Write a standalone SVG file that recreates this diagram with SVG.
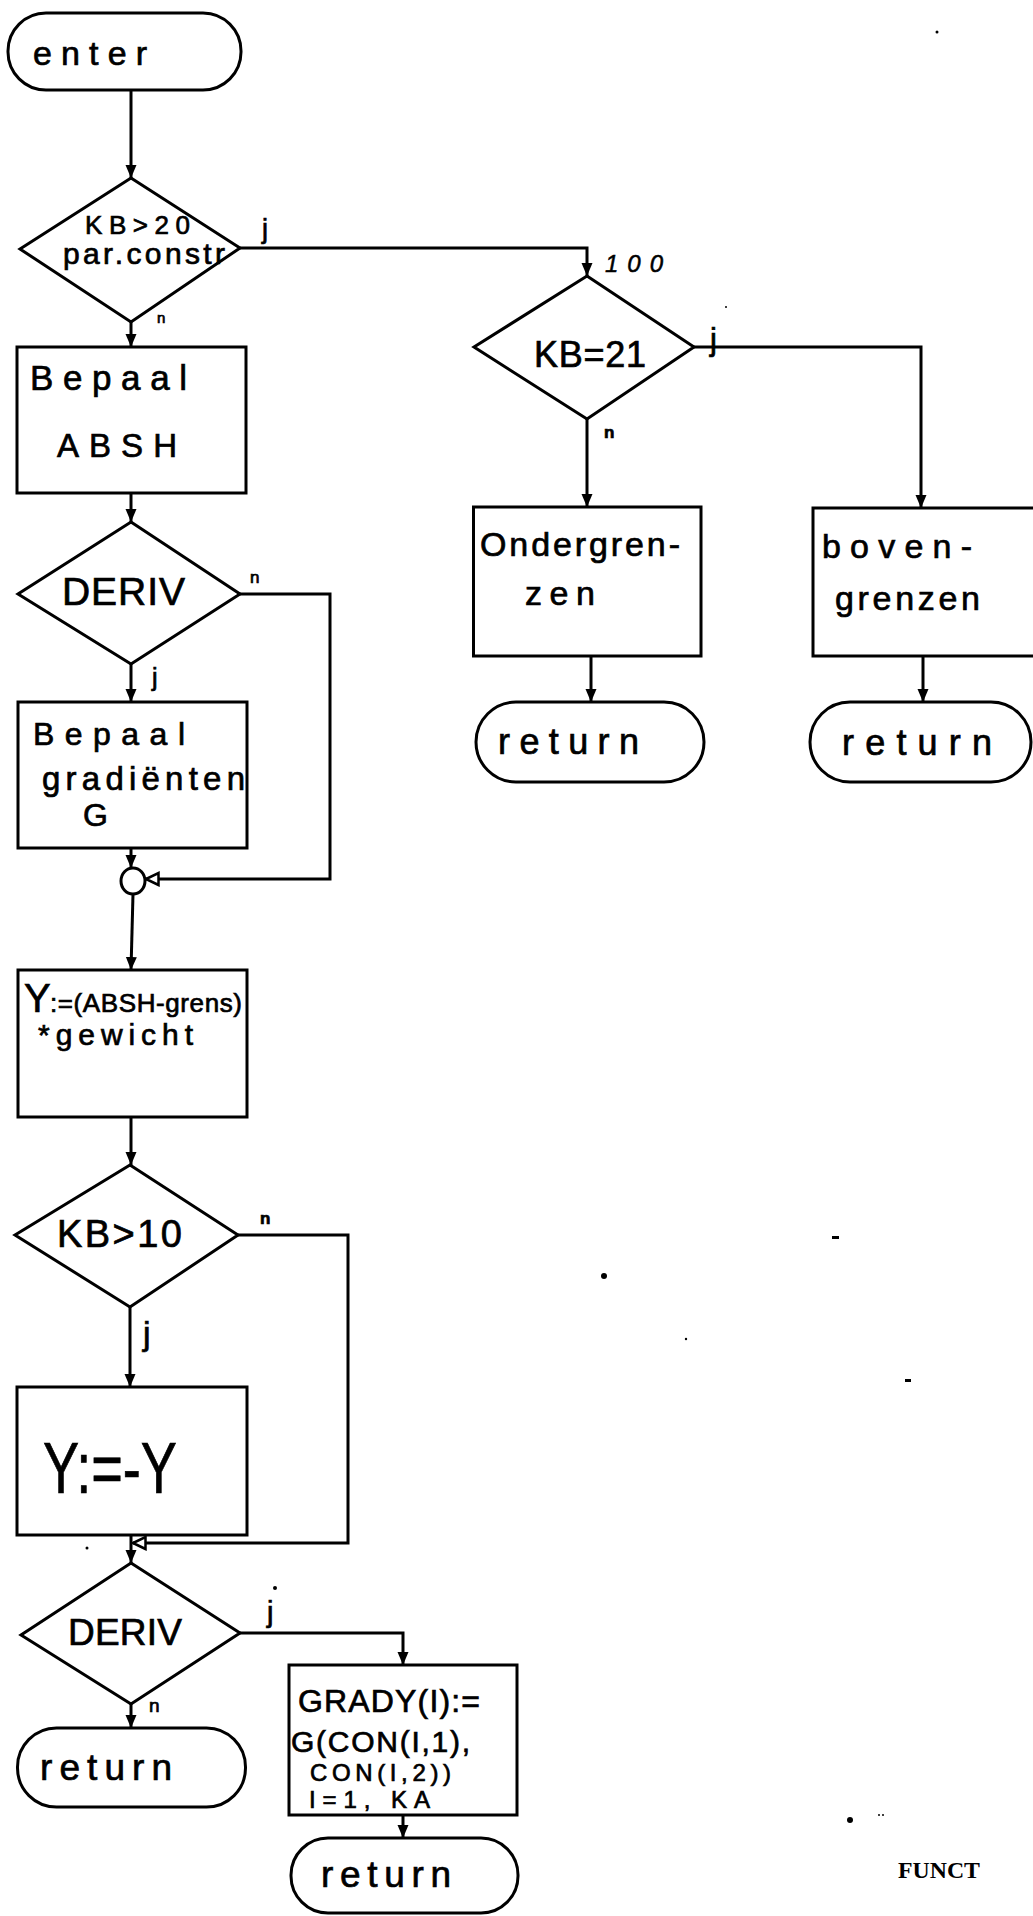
<svg xmlns="http://www.w3.org/2000/svg" width="1033" height="1916" viewBox="0 0 1033 1916">
  <style>
    .shape { fill: none; stroke: #000; stroke-width: 3; stroke-linejoin: miter; }
    .wire { fill: none; stroke: #000; stroke-width: 3; }
    .hand { font-family: "Liberation Sans", "DejaVu Sans", sans-serif; fill: #000; stroke: #000; stroke-width: 0.7; }
    .tag { font-family: "Liberation Sans", "DejaVu Sans", sans-serif; fill: #000; stroke: #000; stroke-width: 0.5; font-style: italic; }
    .speck { fill: #000; }
  </style>
  <defs>
    <marker id="arrow" markerUnits="userSpaceOnUse" markerWidth="14" markerHeight="14" viewBox="0 0 14 14" refX="13" refY="7" orient="auto">
      <path d="M0,1.5 L13,7 L0,12.5 Z" fill="#000"/>
    </marker>
    <marker id="arrowOpen" markerUnits="userSpaceOnUse" markerWidth="16" markerHeight="16" viewBox="0 0 16 16" refX="14" refY="8" orient="auto">
      <path d="M1.5,2 L14,8 L1.5,14 Z" fill="#fff" stroke="#000" stroke-width="2.5"/>
    </marker>
  </defs>
  <rect width="1033" height="1916" fill="#fff"/>

  <!-- connectors -->
  <g id="connectors">
    <path class="wire" d="M131,90 V178" marker-end="url(#arrow)"/>
    <path class="wire" d="M240,248 H587 V276" marker-end="url(#arrow)"/>
    <path class="wire" d="M131,322 V347" marker-end="url(#arrow)"/>
    <path class="wire" d="M131,493 V522" marker-end="url(#arrow)"/>
    <path class="wire" d="M131,664 V702" marker-end="url(#arrow)"/>
    <path class="wire" d="M240,594 H330 V879 H146" marker-end="url(#arrowOpen)"/>
    <path class="wire" d="M131,848 V868" marker-end="url(#arrow)"/>
    <path class="wire" d="M133,894 L131,970" marker-end="url(#arrow)"/>
    <path class="wire" d="M131,1117 V1165" marker-end="url(#arrow)"/>
    <path class="wire" d="M130,1307 V1387" marker-end="url(#arrow)"/>
    <path class="wire" d="M238,1235 H348 V1543 H133" marker-end="url(#arrowOpen)"/>
    <path class="wire" d="M131,1535 V1563" marker-end="url(#arrow)"/>
    <path class="wire" d="M240,1633 H403 V1665" marker-end="url(#arrow)"/>
    <path class="wire" d="M131,1704 V1728" marker-end="url(#arrow)"/>
    <path class="wire" d="M403,1815 V1838" marker-end="url(#arrow)"/>
    <path class="wire" d="M694,347 H921 V508" marker-end="url(#arrow)"/>
    <path class="wire" d="M587,419 V507" marker-end="url(#arrow)"/>
    <path class="wire" d="M591,656 V702" marker-end="url(#arrow)"/>
    <path class="wire" d="M923,656 V702" marker-end="url(#arrow)"/>
  </g>

  <!-- branch labels -->
  <g id="branch-labels">
    <text class="hand" x="262" y="238" font-size="27">j</text>
    <text class="hand" x="157" y="323" font-size="15">n</text>
    <text class="hand" x="250" y="583" font-size="17">n</text>
    <text class="hand" x="152" y="686" font-size="25">j</text>
    <text class="hand" x="260" y="1224" font-size="17" font-weight="bold">n</text>
    <text class="hand" x="143" y="1345" font-size="34">j</text>
    <text class="hand" x="267" y="1622" font-size="29">j</text>
    <text class="hand" x="149" y="1712" font-size="19">n</text>
    <text class="tag" x="605" y="272" font-size="24" textLength="58" lengthAdjust="spacing">100</text>
    <text class="hand" x="710" y="350" font-size="31">j</text>
    <text class="hand" x="604" y="438" font-size="17" font-weight="bold">n</text>
  </g>

  <g id="enter">
    <rect class="shape" x="8" y="13" width="233" height="77" rx="38" ry="38"/>
    <text class="hand" x="33" y="65" font-size="34" textLength="114" lengthAdjust="spacing">enter</text>
  </g>

  <g id="kb-gt-20">
    <polygon class="shape" points="131,178 240,248 131,322 20,249"/>
    <text class="hand" x="85" y="234" font-size="26" textLength="105" lengthAdjust="spacing">KB&gt;20</text>
    <text class="hand" x="63" y="264" font-size="30" textLength="162" lengthAdjust="spacing">par.constr</text>
  </g>

  <g id="bepaal-absh">
    <rect class="shape" x="17" y="347" width="229" height="146"/>
    <text class="hand" x="30" y="390" font-size="35" textLength="157" lengthAdjust="spacing">Bepaal</text>
    <text class="hand" x="57" y="457" font-size="33" textLength="120" lengthAdjust="spacing">ABSH</text>
  </g>

  <g id="deriv-1">
    <polygon class="shape" points="131,522 240,594 131,664 18,594"/>
    <text class="hand" x="62" y="605" font-size="39" textLength="123" lengthAdjust="spacing">DERIV</text>
  </g>

  <g id="bepaal-gradienten">
    <rect class="shape" x="18" y="702" width="229" height="146"/>
    <text class="hand" x="33" y="745" font-size="32" textLength="152" lengthAdjust="spacing">Bepaal</text>
    <text class="hand" x="42" y="790" font-size="33" textLength="203" lengthAdjust="spacing">gradiënten</text>
    <text class="hand" x="83" y="826" font-size="32">G</text>
  </g>

  <g id="join-1">
    <ellipse class="shape" cx="133" cy="881" rx="12" ry="13"/>
  </g>

  <g id="y-assign">
    <rect class="shape" x="18" y="970" width="229" height="147"/>
    <text class="hand" y="1012"><tspan x="24" font-size="40">Y</tspan><tspan x="50" font-size="26" textLength="192" lengthAdjust="spacing">:=(ABSH-grens)</tspan></text>
    <text class="hand" x="38" y="1045" font-size="30" textLength="155" lengthAdjust="spacing">*gewicht</text>
  </g>

  <g id="kb-gt-10">
    <polygon class="shape" points="130,1165 238,1235 130,1307 15,1235"/>
    <text class="hand" x="57" y="1247" font-size="38" textLength="125" lengthAdjust="spacing">KB&gt;10</text>
  </g>

  <g id="negate-y">
    <rect class="shape" x="17" y="1387" width="230" height="148"/>
    <text class="hand" x="43" y="1493" font-size="72" textLength="134" lengthAdjust="spacingAndGlyphs">Y:=-Y</text>
  </g>

  <g id="deriv-2">
    <polygon class="shape" points="131,1563 240,1633 131,1704 21,1635"/>
    <text class="hand" x="68" y="1645" font-size="37" textLength="114" lengthAdjust="spacing">DERIV</text>
  </g>

  <g id="return-1">
    <rect class="shape" x="17.5" y="1728" width="228" height="79" rx="39" ry="39"/>
    <text class="hand" x="40" y="1780" font-size="37" textLength="132" lengthAdjust="spacing">return</text>
  </g>

  <g id="grady">
    <rect class="shape" x="289" y="1665" width="228" height="150"/>
    <text class="hand" x="298" y="1712" font-size="32" textLength="182" lengthAdjust="spacing">GRADY(I):=</text>
    <text class="hand" x="291" y="1752" font-size="30" textLength="179" lengthAdjust="spacing">G(CON(I,1),</text>
    <text class="hand" x="310" y="1781" font-size="24" textLength="141" lengthAdjust="spacing">CON(I,2))</text>
    <text class="hand" x="309" y="1808" font-size="24" textLength="121" lengthAdjust="spacing">I=1, KA</text>
  </g>

  <g id="return-2">
    <rect class="shape" x="291" y="1838" width="227" height="75" rx="37" ry="37"/>
    <text class="hand" x="321" y="1887" font-size="37" textLength="130" lengthAdjust="spacing">return</text>
  </g>

  <g id="kb-eq-21">
    <polygon class="shape" points="587,276 694,347 587,419 474,347"/>
    <text class="hand" x="534" y="367" font-size="36" textLength="112" lengthAdjust="spacing">KB=21</text>
  </g>

  <g id="ondergrenzen">
    <rect class="shape" x="473.5" y="507" width="227.5" height="149"/>
    <text class="hand" x="480" y="556" font-size="34" textLength="200" lengthAdjust="spacing">Ondergren-</text>
    <text class="hand" x="525" y="605" font-size="34" textLength="70" lengthAdjust="spacing">zen</text>
  </g>

  <g id="return-3">
    <rect class="shape" x="476" y="702" width="228" height="80" rx="40" ry="40"/>
    <text class="hand" x="498" y="754" font-size="36" textLength="141" lengthAdjust="spacing">return</text>
  </g>

  <g id="bovengrenzen">
    <rect class="shape" x="813" y="508" width="232" height="148"/>
    <text class="hand" x="822" y="558" font-size="34" textLength="150" lengthAdjust="spacing">boven-</text>
    <text class="hand" x="835" y="610" font-size="34" textLength="145" lengthAdjust="spacing">grenzen</text>
  </g>

  <g id="return-4">
    <rect class="shape" x="810" y="702" width="221" height="80" rx="40" ry="40"/>
    <text class="hand" x="842" y="755" font-size="36" textLength="150" lengthAdjust="spacing">return</text>
  </g>

  <!-- page caption -->
  <text x="898" y="1878" font-family="Liberation Serif, serif" font-weight="bold" font-size="24" textLength="82" lengthAdjust="spacingAndGlyphs" fill="#000">FUNCT</text>

  <!-- specks on the sheet -->
  <g id="specks">
    <circle class="speck" cx="937" cy="32" r="1.5"/>
    <circle class="speck" cx="726" cy="307" r="1"/>
    <circle class="speck" cx="604" cy="1276" r="3"/>
    <rect class="speck" x="832" y="1236" width="7" height="3"/>
    <circle class="speck" cx="686" cy="1339" r="1.2"/>
    <rect class="speck" x="905" y="1379" width="6" height="3"/>
    <circle class="speck" cx="87" cy="1548" r="1.5"/>
    <circle class="speck" cx="275" cy="1588" r="2"/>
    <circle class="speck" cx="850" cy="1820" r="3"/>
    <circle class="speck" cx="879" cy="1815" r="1"/>
    <circle class="speck" cx="883" cy="1815" r="1"/>
  </g>
</svg>
